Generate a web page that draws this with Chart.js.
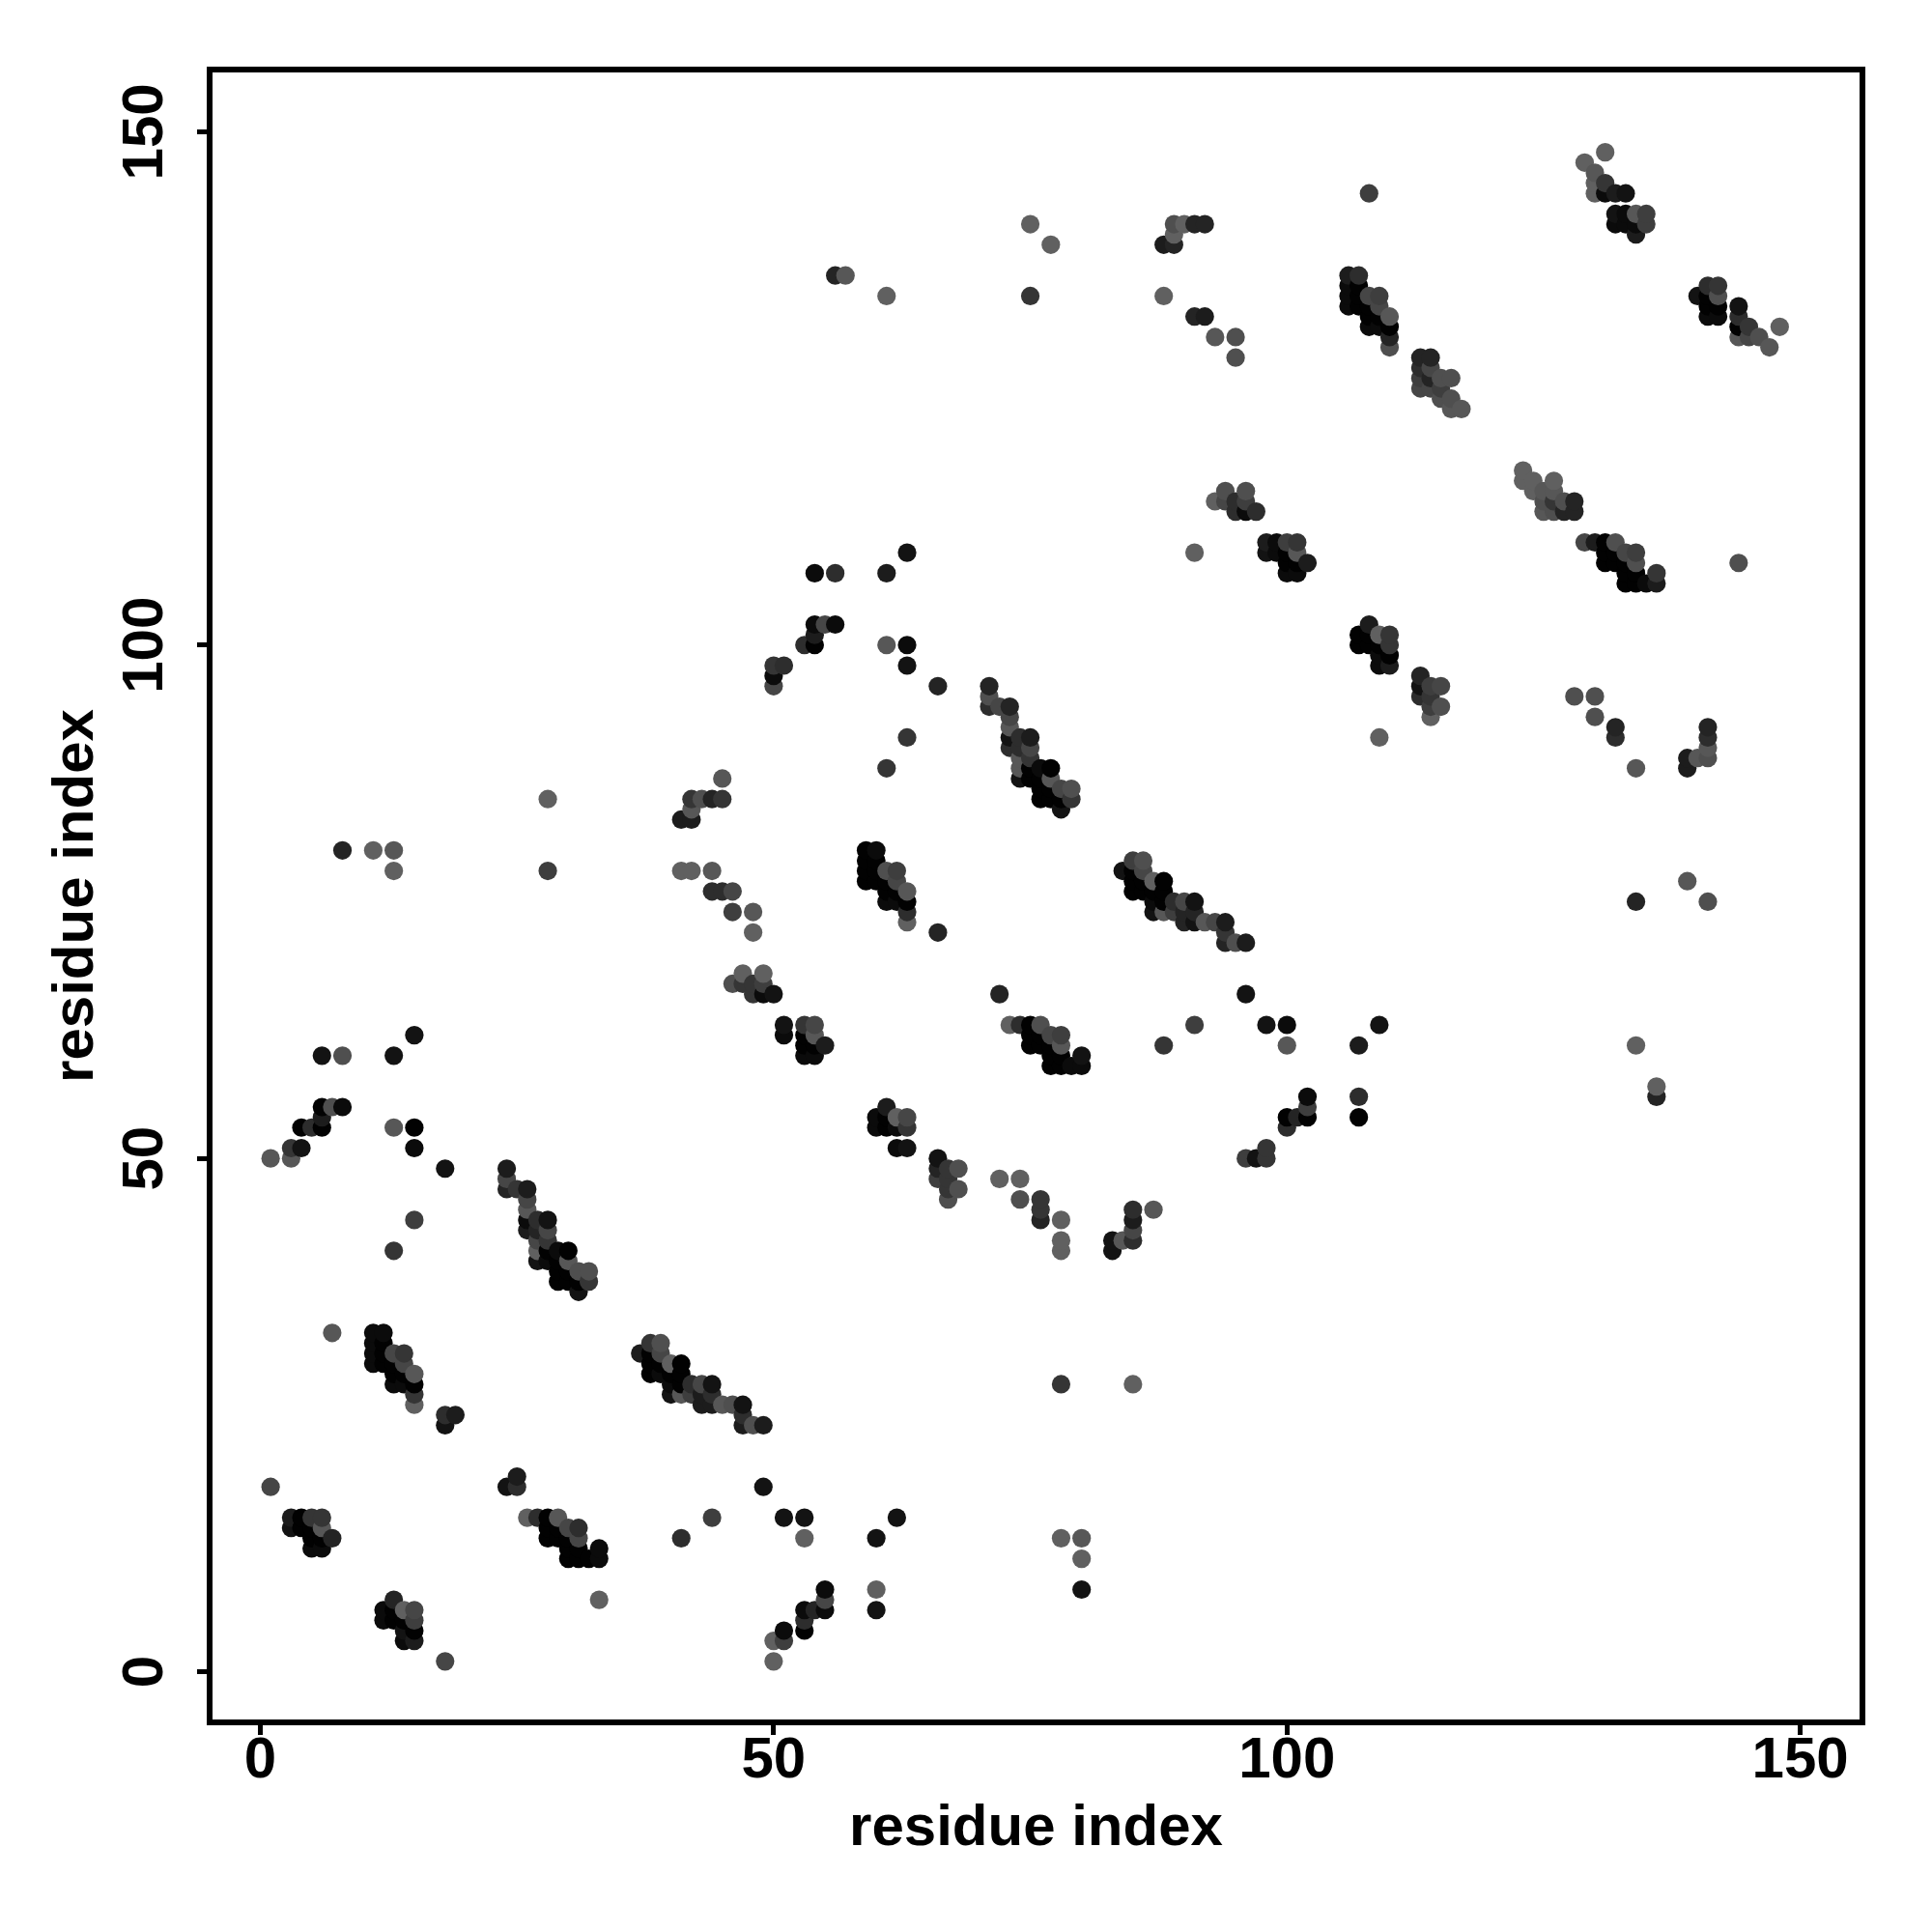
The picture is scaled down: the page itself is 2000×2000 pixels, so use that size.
<!DOCTYPE html>
<html>
<head>
<meta charset="utf-8">
<title>residue contacts</title>
<script src="https://cdn.jsdelivr.net/npm/chart.js@4"></script>
<style>
  html, body { margin: 0; padding: 0; background: #fff; }
  canvas { display: block; }
</style>
</head>
<body>
<canvas id="contactChart" width="2000" height="2000"></canvas>
<script>
// === DATA: [residue x, residue y, strength]; strength 0 = darkest, 11 = palest ===
const tickValues = [0, 50, 100, 150];

const lowRow = [
  [1,18,8],[3,15,3],[4,15,0],[5,15,6],[6,15,6],[3,14,2],[4,14,0],[5,14,0],[6,14,10],[5,13,0],[6,13,0],[7,13,4],[5,12,1],[6,12,1],
  [13,7,4],[12,6,1],[12,5,1],[13,6,0],[13,5,0],[14,6,11],[15,6,8],[15,5,7],[14,5,0],[15,4,0],[14,4,2],[14,3,1],[15,3,3],[18,1,8],
  [24,18,2],[25,19,3],[25,18,5],[26,15,11],[27,15,5],[28,15,0],[29,15,10],[28,14,0],[28,13,0],[29,14,0],[29,13,0],[30,14,8],[31,14,5],[31,13,8],[30,13,0],[30,12,0],[31,12,0],[30,11,0],[31,11,0],[32,11,0],[33,11,1],[33,12,1],[33,7,11],
  [49,18,2],[44,15,7],[41,13,5],[51,15,2],[53,15,2],[53,13,11],[60,13,2],[62,15,2],
  [55,8,1],[55,7,8],[55,6,1],[54,6,4],[53,6,1],[53,5,5],[53,4,0],[51,4,1],[51,3,7],[50,3,11],[50,1,11],[60,8,11],[60,6,2],
  [78,13,11],[80,13,10],[80,11,11],[80,8,2]
];

const helixA = [
  [7,33,10],[11,33,1],[12,33,1],[11,32,1],[11,31,1],[11,30,1],[12,32,0],[12,31,0],[12,30,0],[13,31,8],[14,31,6],[14,30,8],[13,30,0],[15,29,10],[13,29,0],[14,29,0],[13,28,1],[14,28,1],[15,28,0],[15,27,6],[15,26,11],[18,25,5],[19,25,3],[18,24,2],
  [37,31,3],[38,32,6],[39,32,9],[39,31,8],[38,31,0],[38,30,0],[38,29,0],[39,30,0],[39,29,1],[40,30,11],[41,30,0],[40,29,0],[41,29,0],[40,28,1],[41,28,0],[42,28,5],[43,28,8],[44,28,2],[40,27,2],[41,27,10],[42,27,7],[43,27,3],[44,27,5],[43,26,3],[44,26,3],[45,26,10],[46,26,9],[47,26,2],[47,25,5],[47,24,3],[48,24,9],[49,24,3],
  [78,28,6],[85,28,11]
];

const helixB = [
  [24,49,3],[24,48,8],[24,47,4],[25,47,6],[26,47,3],[26,46,8],[26,45,10],[26,44,1],[26,43,3],[27,44,5],[28,44,2],[27,43,4],[28,43,8],[28,42,6],[27,42,8],[27,41,11],[27,40,2],[28,40,1],[28,41,0],[29,41,1],[30,41,0],[29,40,0],[30,40,10],[29,39,0],[29,38,0],[30,39,0],[30,38,0],[31,39,9],[32,39,9],[31,38,0],[32,38,6],[31,37,2],
  [15,44,7],[13,41,6],[18,49,2],
  [1,50,10],[3,50,10],[3,51,6],[4,51,2],[4,53,0],[5,53,5],[6,53,0],[6,54,3],[6,55,0],[7,55,9],[8,55,1],[13,53,10],[15,53,0],[15,51,1],
  [6,60,2],[8,60,9],[13,60,2],[15,62,2],
  [66,50,2],[66,49,4],[66,48,7],[67,49,6],[67,48,6],[68,49,9],[67,47,6],[68,47,9],[67,46,9],
  [72,48,11],[74,48,11],[74,46,9],[76,46,6],[76,45,6],[76,44,4],[78,44,11],[78,42,11],[78,41,11],
  [83,42,2],[83,41,2],[84,42,10],[85,42,5],[85,43,8],[85,44,3],[85,45,5],[87,45,10],
  [60,54,1],[60,53,1],[61,55,3],[61,54,0],[61,53,0],[62,54,11],[63,54,8],[63,53,6],[62,53,1],[62,51,1],[63,51,2],
  [96,50,7],[97,50,2],[98,50,6],[98,51,6],[100,53,5],[100,54,0],[101,54,4],[102,54,0],[102,55,7],[102,56,1],[107,54,0],[107,56,5]
];

const midRow = [
  [47,68,11],[49,68,11],[46,67,9],[47,67,6],[48,67,6],[49,67,7],[48,66,6],[49,66,1],[50,66,2],
  [51,63,2],[51,62,1],[53,63,6],[54,63,8],[54,62,10],[53,62,0],[53,61,0],[54,61,0],[55,61,3],[53,60,1],[54,60,1],
  [72,66,4],[73,63,11],[74,63,5],[75,63,0],[76,63,9],[75,62,0],[75,61,0],[76,62,0],[76,61,0],[77,62,8],[78,62,7],[78,61,10],[77,61,0],[77,60,0],[77,59,0],[78,60,0],[78,59,0],[79,59,1],[80,59,1],[80,60,2],
  [88,61,6],[91,63,7],[96,66,2],[98,63,2],[100,63,1],[100,61,10],[107,61,3],[109,63,2],
  [134,61,11],[136,57,11],[136,56,4]
];

const upperMid = [
  [8,80,4],[11,80,11],[13,80,10],[13,78,11],[28,78,7],[28,85,11],
  [45,87,10],[42,85,6],[43,85,9],[44,85,4],[45,85,6],[42,84,10],[41,83,3],[42,83,3],
  [41,78,11],[42,78,11],[44,78,10],[44,76,5],[45,76,5],[46,76,8],[46,74,7],[48,74,10],[48,72,11],
  [59,80,0],[60,80,1],[59,79,0],[59,78,0],[59,77,0],[60,79,0],[60,78,0],[60,77,0],[61,78,9],[62,78,7],[62,77,8],[61,77,0],[63,76,10],[61,76,0],[62,76,0],[61,75,1],[62,75,1],[63,75,0],[63,74,5],[63,73,11],[66,72,4],
  [84,78,2],[85,79,7],[86,79,9],[86,78,8],[85,78,0],[85,77,0],[85,76,0],[86,77,0],[86,76,0],[87,77,11],[88,77,0],[87,76,0],[88,76,0],[87,75,1],[88,75,0],[89,75,5],[90,75,8],[91,75,2],[87,74,2],[88,74,10],[89,74,7],[90,74,4],[91,74,4],[90,73,4],[91,73,2],[92,73,10],[93,73,8],[94,73,3],[94,72,6],[94,71,4],[95,71,9],[96,71,3],
  [134,75,4],[139,77,10],[141,75,9]
];

const helixC = [
  [71,96,4],[71,95,9],[71,94,5],[72,94,8],[73,94,4],[73,93,8],[73,92,10],[73,91,2],[73,90,5],[74,91,5],[75,91,3],[74,90,5],[75,90,8],[75,89,6],[74,89,10],[74,88,10],[74,87,2],[75,87,0],[75,88,0],[76,88,1],[77,88,0],[76,87,0],[77,87,10],[76,86,0],[77,86,0],[78,86,8],[79,86,9],[76,85,0],[77,85,0],[78,85,0],[79,85,6],[78,84,2],
  [50,96,8],[50,97,1],[50,98,6],[51,98,5],[53,100,5],[54,100,0],[54,101,3],[54,102,1],[55,102,8],[56,102,1],[61,100,10],[63,100,1],[63,98,2],[66,96,4],[63,91,6],[61,88,6],
  [54,107,1],[56,107,5],[61,107,3],[63,109,2]
];

const upperBlock = [
  [91,109,11],[94,115,9],[96,115,9],[93,114,11],[94,114,8],[95,114,5],[96,114,7],[95,113,5],[96,113,1],[97,113,5],
  [98,110,3],[99,110,1],[100,110,7],[101,110,6],[98,109,2],[99,109,1],[100,109,0],[101,109,10],[100,108,0],[101,108,0],[102,108,3],[100,107,1],[101,107,1],
  [108,102,3],[107,101,0],[107,100,0],[108,101,0],[108,100,0],[109,101,11],[110,101,6],[110,100,6],[109,100,0],[109,99,1],[110,99,0],[109,98,1],[110,98,3],
  [113,97,4],[113,96,2],[113,95,5],[114,96,7],[115,96,8],[114,95,6],[115,94,9],[114,94,7],[114,93,11],[109,91,11],
  [123,117,11],[123,116,11],[124,116,11],[124,115,11],[126,116,11],[125,115,10],[126,115,10],[125,114,9],[126,114,6],[127,114,9],[128,114,4],[125,113,10],[126,113,9],[127,113,4],[128,113,4],
  [129,110,8],[130,110,3],[131,110,0],[132,110,9],[131,109,0],[131,108,0],[132,109,0],[132,108,0],[133,109,8],[134,109,7],[134,108,9],[133,108,0],[133,107,0],[133,106,0],[134,107,0],[134,106,0],[135,106,1],[136,106,3],[136,107,6],
  [144,108,9],[128,95,9],[130,95,9],[130,93,9],[132,92,4],[132,91,5],[134,88,10],
  [141,92,4],[141,91,5],[141,90,10],[141,89,9],[140,89,10],[139,89,3],[139,88,3]
];

const topBlock = [
  [56,136,4],[57,136,10],[61,134,11],[75,141,11],[77,139,11],[75,134,6],
  [89,141,9],[90,141,11],[91,141,4],[92,141,4],[89,140,11],[88,139,3],[89,139,4],[88,134,11],[91,132,4],[92,132,3],[93,130,10],[95,130,9],[95,128,9],
  [106,136,3],[107,136,5],[106,135,1],[106,134,1],[106,133,1],[107,135,0],[107,134,0],[107,133,0],[108,134,8],[109,134,7],[109,133,8],[108,133,0],[110,132,10],[108,132,0],[109,132,0],[108,131,1],[109,131,1],[110,131,0],[110,130,4],[110,129,9],[108,144,7],
  [113,128,4],[114,128,4],[113,127,5],[114,127,8],[113,126,7],[114,126,4],[115,126,9],[116,126,9],[113,125,8],[114,125,8],[115,125,7],[115,124,9],[116,124,9],[116,123,10],[117,123,10],
  [131,148,11],[129,147,11],[130,146,10],[130,145,11],[130,144,11],[131,145,6],[131,144,1],[132,144,3],[133,144,2],
  [132,142,2],[133,142,1],[134,142,10],[135,142,7],[132,141,1],[133,141,1],[134,141,1],[135,141,7],[134,140,3],
  [140,134,2],[141,135,5],[142,135,6],[142,134,9],[141,134,0],[141,133,0],[142,133,0],[141,132,1],[142,132,1],[144,133,2],[144,132,5],[144,131,0],[145,131,6],[144,130,10],[145,130,8],[146,130,9],[147,129,10],[148,131,11]
];

// === CHART ===
const contacts = [...lowRow, ...helixA, ...helixB, ...midRow, ...upperMid, ...helixC, ...upperBlock, ...topBlock]
  .sort((a, b) => a[0] - b[0] || a[1] - b[1]);

const FONT = '"Liberation Sans", Arial, sans-serif';
const shade = level => {
  const g = Math.round(2 + level * 8.5);
  return `rgb(${g},${g},${g})`;
};

// frame round the plot, and the y tick labels turned on their side
const framePlugin = {
  id: 'frame',
  afterDraw(chart) {
    const { ctx, chartArea: a, scales: { y } } = chart;
    ctx.save();
    ctx.strokeStyle = '#000';
    ctx.lineWidth = 6;
    ctx.strokeRect(a.left, a.top, a.right - a.left, a.bottom - a.top);
    ctx.fillStyle = '#000';
    ctx.font = `bold 60px ${FONT}`;
    ctx.textAlign = 'center';
    ctx.textBaseline = 'middle';
    tickValues.forEach(v => {
      ctx.save();
      ctx.translate(151, y.getPixelForValue(v));
      ctx.rotate(-Math.PI / 2);
      ctx.fillText(String(v), 0, 0);
      ctx.restore();
    });
    ctx.restore();
  }
};

const setTicks = scale => { scale.ticks = tickValues.map(value => ({ value })); };
const tickGrid = { drawOnChartArea: false, drawTicks: true, tickLength: 13, tickWidth: 5, tickColor: '#000' };

new Chart(document.getElementById('contactChart').getContext('2d'), {
  type: 'scatter',
  data: {
    datasets: [{
      data: contacts.map(c => ({ x: c[0], y: c[1] })),
      backgroundColor: contacts.map(c => shade(c[2])),
      pointRadius: 9.6,
      pointHoverRadius: 9.6,
      borderWidth: 0
    }]
  },
  plugins: [framePlugin],
  options: {
    responsive: false,
    animation: false,
    events: [],
    layout: { padding: { top: 72, right: 72, left: 0, bottom: 0 } },
    plugins: { legend: { display: false }, tooltip: { enabled: false } },
    scales: {
      x: {
        type: 'linear',
        min: -4.94,
        max: 156.06,
        afterBuildTicks: setTicks,
        afterFit: s => { s.height = 217; },
        border: { display: false },
        grid: tickGrid,
        ticks: { autoSkip: false, maxRotation: 0, color: '#000', padding: -9, font: { family: FONT, size: 60, weight: 'bold' } },
        title: { display: true, text: 'residue index', color: '#000', padding: { top: 0, bottom: 71 }, font: { family: FONT, size: 60, weight: 'bold', lineHeight: 1.2 } }
      },
      y: {
        type: 'linear',
        min: -4.94,
        max: 156.06,
        afterBuildTicks: setTicks,
        afterFit: s => { s.width = 217; },
        border: { display: false },
        grid: tickGrid,
        ticks: { display: false },
        title: { display: true, text: 'residue index', color: '#000', padding: { top: 43, bottom: 0 }, font: { family: FONT, size: 60, weight: 'bold', lineHeight: 1.2 } }
      }
    }
  }
});
</script>
</body>
</html>
